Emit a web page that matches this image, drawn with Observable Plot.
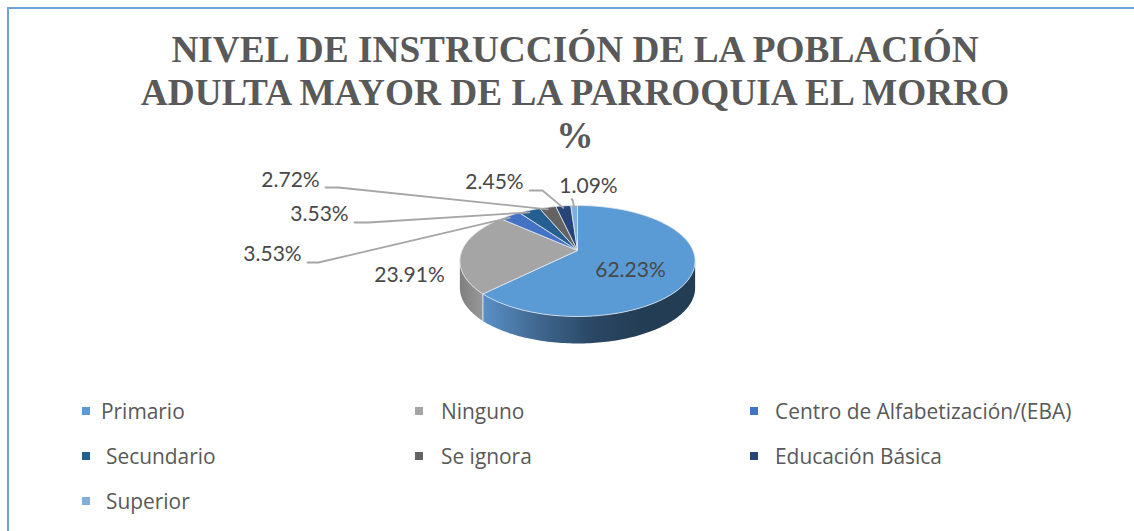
<!DOCTYPE html>
<html lang="es">
<head>
<meta charset="utf-8">
<script src="https://cdn.jsdelivr.net/npm/d3@7"></script>
<script src="https://cdn.jsdelivr.net/npm/@observablehq/plot@0.6"></script>
<style>
html,body{margin:0;padding:0;background:#fff;overflow:hidden;width:1134px;height:531px}
#frame{position:absolute;left:7px;top:7px;width:1140px;height:540px;border-left:2px solid #6ea6da;border-top:2px solid #6ea6da}
#page{position:absolute;left:0;top:0;width:1134px;height:531px}
#title{height:155px;box-sizing:border-box;padding-top:28px;text-align:center;font:bold 37.3px/43px "Liberation Serif",serif;color:#595959;margin-left:16px}
#chart{height:240px}
#chart svg{display:block}
#legend{position:relative;height:136px;font-family:"Open Sans",sans-serif;font-size:20.9px;color:#595959}
#legend .sw{position:absolute;width:8px;height:8px}
#legend .tx{position:absolute;white-space:nowrap;line-height:24px}
</style>
</head>
<body>
<div id="frame"></div>
<div id="page">
<div id="title">NIVEL DE INSTRUCCIÓN DE LA POBLACIÓN<br>ADULTA MAYOR DE LA PARROQUIA EL MORRO<br>%</div>
<div id="chart"></div>
<div id="legend"></div>
</div>
<script>
const categories = ["Primario","Ninguno","Centro de Alfabetización/(EBA)","Secundario","Se ignora","Educación Básica","Superior"];
const values = [62.23,23.91,3.53,3.53,2.72,2.45,1.09];
const colors = ["#5b9bd5","#a5a5a5","#4472c4","#255e91","#636363","#264478","#7cafdd"];

// layout (page pixels)
const labelX = [630,409,272,319,290,494,588];
const labelY = [270,275,254,214,180,182,186];
const leaderStartX = [null,null,307,354,325,529,571];
const leaderKneeX  = [null,null,318,368,338,542,572];
const leaderKneeY  = [null,null,262,222,187,190,199];
const legendSwatchX = [82,415,750,82,415,750,82];
const legendTextX   = [101,441,775,106,441,775,106];
const legendRowY    = [411,411,411,456,456,456,501];

const cx = 577, cy = 250, R = 115.5, H = 53.5, k = 0.189, wall = 27;
const rimX = t => cx + R*Math.sin(t)/(1+k*Math.cos(t));
const rimY = t => cy - H*Math.cos(t)/(1+k*Math.cos(t));

const arcs = d3.pie().sort(null).value(d=>d)(values);
const sample = (a0,a1,step=0.02) => {
  const n = Math.max(1,Math.ceil((a1-a0)/step));
  return d3.range(n+1).map(i => a0+(a1-a0)*i/n);
};
const slicePts = arcs.flatMap((a,i)=>[
  {name:categories[i],x:cx,y:cy},
  ...sample(a.startAngle,a.endAngle).map(t=>({name:categories[i],x:rimX(t),y:rimY(t)})),
  {name:categories[i],x:cx,y:cy}
]);
const wallPts = (a0,a1) => {
  const ts = sample(a0,a1);
  return [...ts.map(t=>({x:rimX(t),y:rimY(t)})),...ts.slice().reverse().map(t=>({x:rimX(t),y:rimY(t)+wall}))];
};
const split = arcs[0].endAngle;
const rightExt = Math.acos(-k), leftExt = 2*Math.PI-rightExt;
const blueWall = wallPts(rightExt,split);
const grayWall = wallPts(split,leftExt);
const seam = [{x:rimX(split),y:rimY(split)},{x:rimX(split),y:rimY(split)+wall}];

const leaders = arcs.flatMap((a,i)=>{
  if(leaderStartX[i]==null) return [];
  const m=(a.startAngle+a.endAngle)/2;
  return [
    {i,x:leaderStartX[i],y:leaderKneeY[i]},
    {i,x:leaderKneeX[i],y:leaderKneeY[i]},
    {i,x:rimX(m),y:rimY(m)+2}
  ];
});
const labels = values.map((v,i)=>({t:v.toFixed(2)+"%",x:labelX[i],y:labelY[i]}));

const defs = () => {
  const s = d3.create("svg:defs");
  const g1 = s.append("linearGradient").attr("id","wb").attr("gradientUnits","userSpaceOnUse")
    .attr("x1",483).attr("x2",640).attr("y1",0).attr("y2",0);
  [[0,"#5a90c8"],[0.35,"#40678f"],[0.7,"#2a4763"],[1,"#233d54"]].forEach(([o,c])=>g1.append("stop").attr("offset",o).attr("stop-color",c));
  const g2 = s.append("linearGradient").attr("id","wg").attr("gradientUnits","userSpaceOnUse")
    .attr("x1",460).attr("x2",484).attr("y1",0).attr("y2",0);
  [[0,"#808080"],[1,"#999999"]].forEach(([o,c])=>g2.append("stop").attr("offset",o).attr("stop-color",c));
  return s.node();
};

const plot = Plot.plot({
  width:1134,height:240,margin:0,
  x:{domain:[0,1134],range:[0,1134],axis:null},
  y:{domain:[155,395],range:[0,240],axis:null},
  color:{domain:categories,range:colors},
  style:{background:"transparent"},
  marks:[
    defs,
    Plot.line(blueWall,{x:"x",y:"y",fill:"url(#wb)",stroke:"none"}),
    Plot.line(grayWall,{x:"x",y:"y",fill:"url(#wg)",stroke:"none"}),
    Plot.line(seam,{x:"x",y:"y",stroke:"#dfe6ee",strokeWidth:1}),
    Plot.line(slicePts,{x:"x",y:"y",z:"name",fill:"name",stroke:"#e4e8ee",strokeWidth:0.8,strokeLinejoin:"round"}),
    Plot.line(leaders,{x:"x",y:"y",z:"i",stroke:"#a6a6a6",strokeWidth:1.8}),
    Plot.text(labels,{x:"x",y:"y",text:"t",fontFamily:"Lato, sans-serif",fontSize:21,fill:"#484848"})
  ]
});
document.getElementById("chart").appendChild(plot);

const legend = document.getElementById("legend");
const top0 = 395;
categories.forEach((c,i)=>{
  const sw=document.createElement("div");sw.className="sw";
  sw.style.left=legendSwatchX[i]+"px";sw.style.top=(legendRowY[i]-top0-4)+"px";sw.style.background=colors[i];
  const tx=document.createElement("div");tx.className="tx";tx.textContent=c;
  tx.style.left=legendTextX[i]+"px";tx.style.top=(legendRowY[i]-top0-12)+"px";
  legend.append(sw,tx);
});
</script>
</body>
</html>
